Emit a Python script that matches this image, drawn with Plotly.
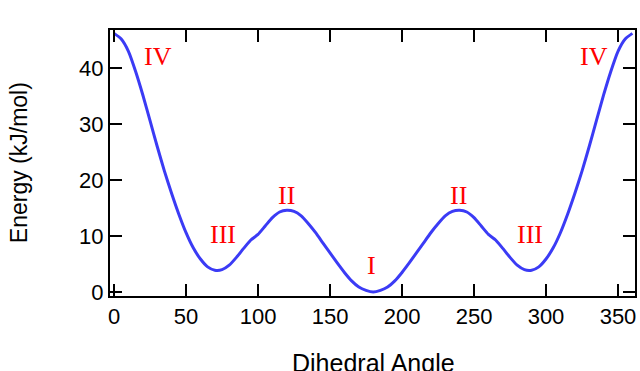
import plotly.graph_objects as go

angle_half = [0, 5, 10, 15, 20, 25, 30, 35, 40, 45, 50, 55, 60, 65, 70, 75, 80, 85, 90,
              95, 100, 105, 110, 115, 120, 125, 130, 135, 140, 145, 150, 155, 160, 165, 170, 175, 180]
energy_half = [46.2, 45.2, 43.0, 39.4, 35.2, 30.6, 26.0, 21.6, 17.6, 13.9, 10.6, 7.9, 5.9, 4.5, 3.9,
               4.0, 4.8, 6.2, 7.8, 9.3, 10.3, 11.8, 13.3, 14.3, 14.6, 14.4, 13.6, 12.2, 10.6,
               8.8, 7.0, 5.2, 3.5, 2.0, 0.9, 0.3, 0.0]

angles = angle_half + [360 - a for a in reversed(angle_half[:-1])]
energies = energy_half + list(reversed(energy_half[:-1]))

label_text = ["IV", "III", "II", "I", "II", "III", "IV"]
label_x = [30.5, 76, 119.5, 179, 239, 289, 333]
label_y = [42, 10.2, 17.3, 4.8, 17.3, 10.2, 42]

x_title = "Dihedral Angle"
y_title = "Energy (kJ/mol)"

fig = go.Figure()
fig.add_trace(go.Scatter(x=angles, y=energies, mode="lines",
                         line=dict(color="#3b3bf5", width=3, shape="spline", smoothing=0.6),
                         showlegend=False, hoverinfo="skip"))

for t, x, y in zip(label_text, label_x, label_y):
    fig.add_annotation(x=x, y=y, text=t, showarrow=False,
                       font=dict(family="Liberation Serif, Times New Roman, serif", size=26, color="#ff0000"),
                       xanchor="center", yanchor="middle")

# axis titles placed as paper annotations (x title partly cut at the bottom edge like the reference)
fig.add_annotation(x=0.501, y=-0.25, xref="paper", yref="paper", text=x_title, showarrow=False,
                   font=dict(family="Liberation Sans, Arial, sans-serif", size=25, color="black"),
                   xanchor="center", yanchor="middle")
fig.add_annotation(x=-0.173, y=0.5, xref="paper", yref="paper", text=y_title, showarrow=False,
                   textangle=-90,
                   font=dict(family="Liberation Sans, Arial, sans-serif", size=23, color="black"),
                   xanchor="center", yanchor="middle")

axis_common = dict(showline=True, linecolor="black", linewidth=2, mirror="allticks",
                   ticks="inside", ticklen=12, tickwidth=1.5, tickcolor="black",
                   showgrid=False, zeroline=False,
                   tickfont=dict(family="Liberation Sans, Arial, sans-serif", size=22, color="black"))

fig.update_xaxes(range=[-2.8, 361.8], tickvals=[0, 50, 100, 150, 200, 250, 300, 350],
                 **axis_common)
fig.update_yaxes(range=[-0.7, 46.8], tickvals=[0, 10, 20, 30, 40],
                 **axis_common)

fig.update_layout(width=640, height=371, margin=dict(l=110, r=5, t=30, b=75, autoexpand=False),
                  plot_bgcolor="white", paper_bgcolor="white")

fig.write_html("out.html", config={"displayModeBar": False},
               post_script="document.body.style.margin='0';"
                           "document.documentElement.style.overflow='hidden';")
